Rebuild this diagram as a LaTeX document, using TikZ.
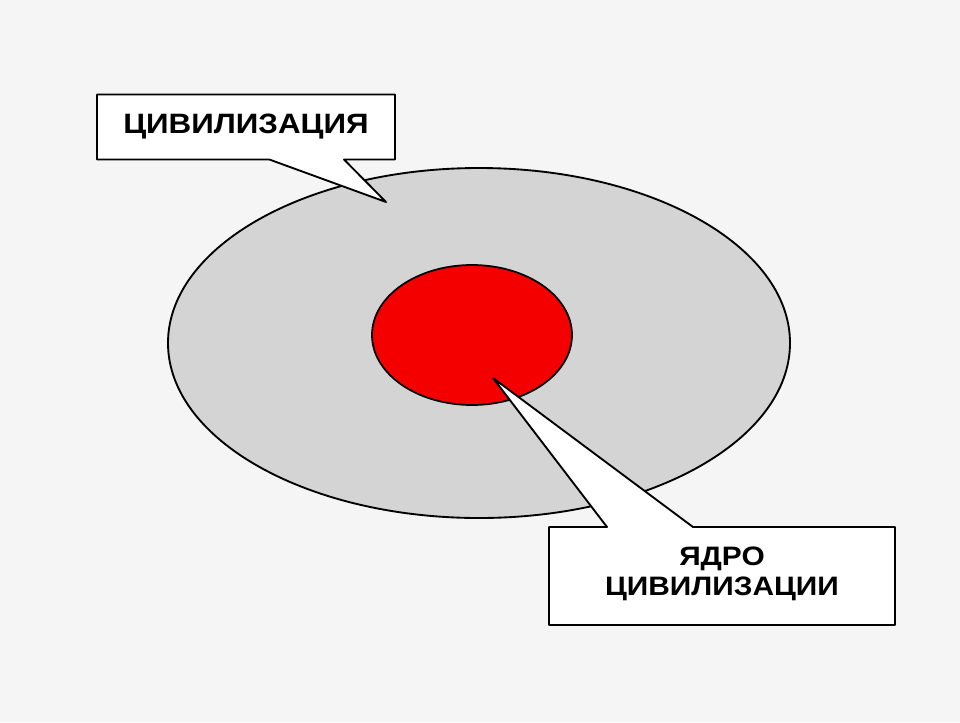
\documentclass[tikz,border=0pt]{standalone}
\usepackage{fontspec}
\setmainfont{Liberation Sans}
\newfontfamily\widesans[FakeStretch=1.12]{Liberation Sans}
\usetikzlibrary{shapes.callouts}
\definecolor{bggray}{HTML}{F5F5F5}
\definecolor{civgray}{HTML}{D4D4D4}
\definecolor{corered}{HTML}{F40000}

\begin{document}
\begin{tikzpicture}[x=0.75pt,y=-0.75pt,line cap=round,line join=round,
	callbox/.style={rectangle callout,draw=black,fill=white,line width=1.4pt,inner sep=0pt,align=center}]
			\fill[bggray] (0,0) rectangle (960,722);
			
			% civilisation and its core
			\draw[fill=civgray,line width=1.4pt] (479,343) ellipse (311 and 175);
			\draw[fill=corered,line width=1.3pt] (472,335) ellipse (100 and 70);
			
			\coordinate (civtip) at (386,202);
			\coordinate (coretip) at (493,378);
			
			\node[callbox,minimum width=223.5pt,minimum height=48.75pt,callout absolute pointer={(civtip)},
				callout pointer width=56pt,font=\widesans\fontsize{21}{24}\selectfont\bfseries] (civ) at (246,127) {ЦИВИЛИЗАЦИЯ};
			
			% box for the core, pointer drawn by hand
			\draw[fill=white,line width=1.4pt] (549,527) -- (607,527) -- (coretip) -- (693,527) -- (895,527)
				-- (895,625) -- (549,625) -- cycle;
			\node[align=center,inner sep=0pt,font=\widesans\fontsize{20}{22.5}\selectfont\bfseries] (core) at (722,574) {ЯДРО\\ЦИВИЛИЗАЦИИ};
		\end{tikzpicture}
\end{document}
